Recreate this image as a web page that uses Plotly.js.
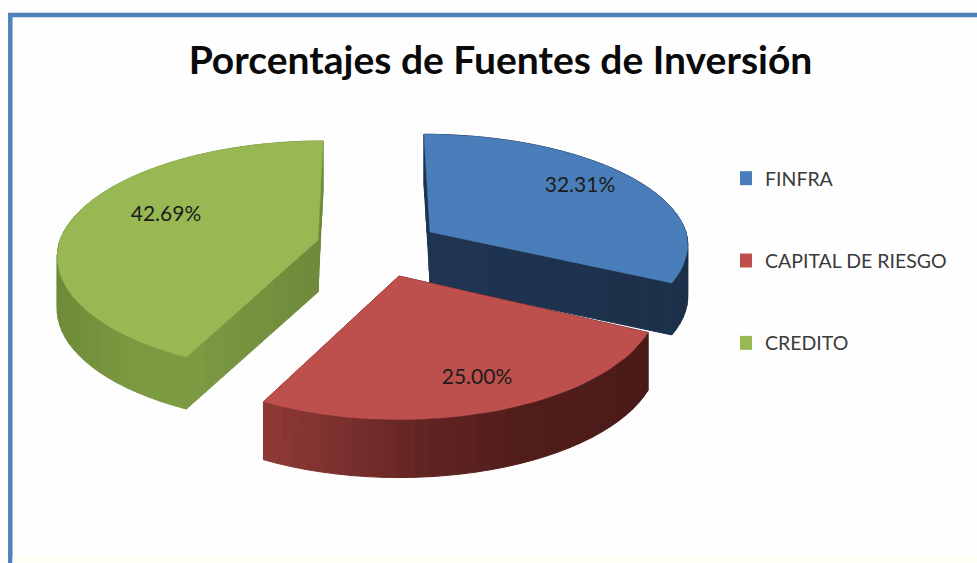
<!DOCTYPE html>
<html>
<head>
<meta charset="utf-8">
<script src="https://cdn.plot.ly/plotly-3.0.1.min.js"></script>
<style>html,body{margin:0;padding:0;background:#fff}#chart{width:977px;height:563px}</style>
</head>
<body>
<div id="chart"></div>
<script>
// Data
const categories = ["FINFRA", "CAPITAL DE RIESGO", "CREDITO"];
const values = [32.31, 25.00, 42.69];
const titleText = "Porcentajes de Fuentes de Inversión";

// Styling
const topColors = ["#4a7ebb", "#bd4f4c", "#98b854"];
const wallStops = [
  [[420, "#1f3552"], [690, "#1c3049"]],
  [[267, "#8e3a37"], [340, "#7a302e"], [430, "#602422"], [520, "#511d1b"], [655, "#4a1a19"]],
  [[57, "#6d8a37"], [120, "#7a9840"], [185, "#7c9b43"], [318, "#6e8a3b"]]
];
// Exploded-slice projection: apex position, radii, leaning of the back edge, depth, perspective
const apexX = [430, 399, 318], apexY = [232, 276, 240];
const radX = [256, 255, 258], radY = [109, 117, 113.5];
const lean = [6, 0, -5], depth = [52, 58, 52];
const persp = [0.115, 0.185, 0.146];
const labelX = [580, 477, 166], labelY = [187, 379, 216];
const drawOrder = [0, 2, 1];

function hex(c) { return [1, 3, 5].map(i => parseInt(c.substr(i, 2), 16)); }
function colorAt(stops, x) {
  if (x <= stops[0][0]) return stops[0][1];
  for (let i = 1; i < stops.length; i++) {
    if (x <= stops[i][0]) {
      const t = (x - stops[i - 1][0]) / (stops[i][0] - stops[i - 1][0]);
      const a = hex(stops[i - 1][1]), b = hex(stops[i][1]);
      return "rgb(" + a.map((v, k) => Math.round(v + (b[k] - v) * t)).join(",") + ")";
    }
  }
  return stops[stops.length - 1][1];
}

const total = values.reduce((a, b) => a + b, 0);
const traces = [];
const starts = values.map((_, i) => values.slice(0, i).reduce((a, b) => a + b, 0));

function project(i, deg, r) {
  const t = deg * Math.PI / 180;
  const u = Math.sin(t) * r, v = -Math.cos(t) * r;
  const s = 1 / (1 - persp[i] * v);
  return [apexX[i] + radX[i] * u * s + lean[i] * Math.min(v, 0),
          apexY[i] + radY[i] * v * s];
}

drawOrder.forEach(i => {
  const a0 = starts[i] / total * 360, a1 = (starts[i] + values[i]) / total * 360;
  const path = [];
  const n = 8;
  for (let k = 0; k <= n; k++) path.push(project(i, a0, k / n));
  const arcN = Math.ceil((a1 - a0) / 3);
  for (let k = 1; k <= arcN; k++) path.push(project(i, a0 + (a1 - a0) * k / arcN, 1));
  for (let k = n - 1; k >= 0; k--) path.push(project(i, a1, k / n));

  // side walls, one strip per outline step
  for (let k = 0; k < path.length - 1; k++) {
    const p = path[k], q = path[k + 1];
    const c = colorAt(wallStops[i], (p[0] + q[0]) / 2);
    traces.push({
      type: "scatter", mode: "lines", fill: "toself", fillcolor: c,
      x: [p[0], q[0], q[0], p[0], p[0]],
      y: [p[1], q[1], q[1] + depth[i], p[1] + depth[i], p[1]],
      line: { color: c, width: 1 }, showlegend: false, hoverinfo: "skip"
    });
  }
  // top face
  traces.push({
    type: "scatter", mode: "lines", fill: "toself", fillcolor: topColors[i],
    x: path.map(p => p[0]), y: path.map(p => p[1]),
    line: { color: topColors[i], width: 0.5 },
    name: categories[i], showlegend: false, hoverinfo: "name"
  });
});

// percentage labels
traces.push({
  type: "scatter", mode: "text", x: labelX, y: labelY,
  text: values.map(v => v.toFixed(2) + "%"),
  textfont: { family: "Lato, sans-serif", size: 21, color: "#1c1c1c" },
  textposition: "middle center", showlegend: false, hoverinfo: "skip"
});

// legend entries
categories.forEach((c, i) => traces.push({
  type: "scatter", mode: "markers", x: [null], y: [null], name: c, legendgroup: c,
  marker: { symbol: "square", size: 14, color: topColors[i] }
}));

const layout = {
  width: 977, height: 563, autosize: false,
  margin: { l: 0, r: 0, t: 0, b: 0 },
  paper_bgcolor: "#ffffff", plot_bgcolor: "#fefefe",
  title: { text: "<b>" + titleText + "</b>", x: 500.5 / 977, xanchor: "center", xref: "paper",
           y: 1 - 60 / 563, yanchor: "middle", yref: "paper",
           font: { family: "Lato, sans-serif", size: 39, color: "#0a0a0a" } },
  xaxis: { range: [0, 977], visible: false, fixedrange: true },
  yaxis: { range: [563, 0], visible: false, fixedrange: true },
  showlegend: true,
  legend: { x: 740 / 977, y: 1 - 159 / 563, xanchor: "left", yanchor: "top",
            bgcolor: "rgba(0,0,0,0)", tracegroupgap: 54, indentation: -15,
            font: { family: "Lato, sans-serif", size: 19.5, color: "#3a3a3a" } },
  shapes: [
    { type: "rect", xref: "x", yref: "y", x0: 10.3, y0: 15, x1: 990, y1: 580,
      line: { color: "#4f81bd", width: 4.5 }, layer: "below" },
    { type: "rect", xref: "x", yref: "y", x0: 12.5, y0: 557, x1: 977, y1: 563,
      fillcolor: "#fffff8", line: { width: 0 }, layer: "below" }
  ]
};
Plotly.newPlot("chart", traces, layout, { displayModeBar: false, responsive: false });
</script>
</body>
</html>
